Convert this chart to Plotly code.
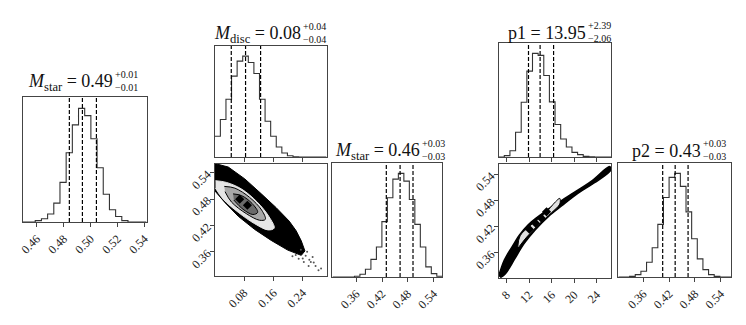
import numpy as np
import plotly.graph_objects as go

# page body keeps its default 8px margin, so the figure is drawn 8px smaller
# and every pixel position below is taken relative to that offset
OFF = 8
W, H = 746 - OFF, 325 - OFF
SERIF = 'Liberation Serif'

# ---- histograms (20 equal bins over each axis range, peak scaled to 1000) ----
mstar1_range = [0.4497, 0.5415]
mstar1_counts = [0, 0, 12, 29, 70, 166, 349, 610, 855, 1000, 936, 733, 477, 244, 108, 49, 12, 0, 0, 0]
mstar1_q = [0.4842, 0.4939, 0.5043]
mstar1_ticks = [0.46, 0.48, 0.50, 0.52, 0.54]

mdisc_range = [0.0, 0.305]
mdisc_counts = [205, 371, 573, 801, 950, 1000, 937, 828, 573, 354, 205, 99, 40, 13, 3, 0, 0, 0, 0, 0]
mdisc_q = [0.045, 0.084, 0.125]
mdisc_ticks = [0.08, 0.16, 0.24]

mstar2_range = [0.305, 0.56]
mstar2_counts = [0, 0, 0, 0, 7, 26, 75, 170, 289, 534, 764, 944, 1000, 925, 748, 508, 289, 98, 33, 7]
mstar2_q = [0.430, 0.462, 0.492]
mstar2_ticks = [0.36, 0.42, 0.48, 0.54]

p1_range = [6.6, 26.6]
p1_counts = [0, 13, 61, 239, 529, 829, 1000, 981, 787, 532, 313, 174, 97, 45, 23, 6, 3, 0, 0, 0]
p1_q = [11.89, 13.95, 16.34]
p1_ticks = [8, 12, 16, 20, 24]

p2_range = [0.302, 0.564]
p2_counts = [0, 0, 6, 23, 55, 142, 282, 508, 767, 961, 1000, 874, 628, 369, 175, 71, 23, 6, 0, 0]
p2_q = [0.405, 0.434, 0.464]
p2_ticks = [0.36, 0.42, 0.48, 0.54]

# ---- 2D panel: M_disc vs M_star (outlines) ----
cloud_a_x = [0.0, 0.001, 0.037, 0.082, 0.127, 0.167, 0.203, 0.222, 0.236, 0.246, 0.236, 0.218, 0.199, 0.154, 0.109, 0.064, 0.028, 0.0]
cloud_a_y = [0.563, 0.561, 0.553, 0.526, 0.492, 0.461, 0.430, 0.408, 0.385, 0.362, 0.352, 0.357, 0.364, 0.386, 0.411, 0.441, 0.472, 0.499]
dots_a_x = [0.235, 0.248, 0.262, 0.275, 0.256, 0.229, 0.267, 0.283, 0.243, 0.221, 0.29, 0.252, 0.258, 0.27, 0.24, 0.212]
dots_a_y = [0.365, 0.351, 0.337, 0.328, 0.328, 0.344, 0.348, 0.318, 0.337, 0.353, 0.322, 0.36, 0.342, 0.336, 0.345, 0.35]
light_a_x = [0.002, 0.032, 0.073, 0.115, 0.148, 0.162, 0.145, 0.109, 0.064, 0.023, 0.002]
light_a_y = [0.522, 0.518, 0.503, 0.474, 0.440, 0.414, 0.410, 0.424, 0.450, 0.480, 0.505]
gray_a_x = [0.026, 0.055, 0.095, 0.128, 0.138, 0.122, 0.086, 0.046, 0.028]
gray_a_y = [0.509, 0.505, 0.484, 0.455, 0.434, 0.432, 0.447, 0.473, 0.497]
dark_a_x = [0.050, 0.073, 0.102, 0.117, 0.104, 0.077, 0.052]
dark_a_y = [0.492, 0.488, 0.470, 0.450, 0.445, 0.457, 0.478]
core_a_x = [0.068, 0.089]
core_a_y = [0.480, 0.466]

# ---- 2D panel: p1 vs p2 ----
band_b_x = [6.6, 7.6, 9.0, 10.3, 11.8, 14.2, 17.1, 20.0, 23.0, 26.3, 26.5, 23.6, 20.7, 17.8, 15.4, 13.1, 11.1, 9.5, 7.8, 6.9]
band_b_y = [0.306, 0.343, 0.374, 0.401, 0.424, 0.449, 0.475, 0.499, 0.524, 0.558, 0.550, 0.521, 0.497, 0.468, 0.443, 0.413, 0.381, 0.347, 0.312, 0.303]
light_b_x = [9.99, 10.41, 12.17, 14.80, 16.67, 17.44, 17.44, 15.97, 13.63, 11.57, 10.23]
light_b_y = [0.374, 0.399, 0.422, 0.450, 0.477, 0.485, 0.472, 0.452, 0.424, 0.396, 0.374]
core_b_x = [12.04, 13.15, 14.21, 15.09]
core_b_y = [0.414, 0.428, 0.439, 0.454]

fig = go.Figure()


def hist(n, rng, counts, q):
    a = '' if n == 1 else str(n)
    edges = np.linspace(rng[0], rng[1], len(counts) + 1)
    fig.add_trace(go.Scatter(x=edges, y=list(counts) + [counts[-1]], mode='lines',
                             line=dict(color='#333', width=1.1, shape='hv'),
                             xaxis='x' + a, yaxis='y' + a, hoverinfo='skip'))
    top = 1.1 * max(counts)
    qx, qy = [], []
    for v in q:
        qx += [v, v, None]
        qy += [0, top, None]
    fig.add_trace(go.Scatter(x=qx, y=qy, mode='lines',
                             line=dict(color='black', width=1.2, dash='4px,2px'),
                             xaxis='x' + a, yaxis='y' + a, hoverinfo='skip'))


def poly(n, xs, ys, fill, line='black', lw=1, shape='spline'):
    a = str(n)
    fig.add_trace(go.Scatter(x=xs, y=ys, mode='lines', fill='toself', fillcolor=fill,
                             line=dict(color=line, width=lw, shape=shape),
                             xaxis='x' + a, yaxis='y' + a, hoverinfo='skip'))


def pts(n, xs, ys, color, size, symbol='circle'):
    a = str(n)
    fig.add_trace(go.Scatter(x=xs, y=ys, mode='markers',
                             marker=dict(color=color, size=size, symbol=symbol),
                             xaxis='x' + a, yaxis='y' + a, hoverinfo='skip'))


hist(1, mstar1_range, mstar1_counts, mstar1_q)
hist(2, mdisc_range, mdisc_counts, mdisc_q)
hist(4, mstar2_range, mstar2_counts, mstar2_q)
hist(5, p1_range, p1_counts, p1_q)
hist(7, p2_range, p2_counts, p2_q)

poly(3, cloud_a_x, cloud_a_y, 'black', 'black', 1, 'linear')
pts(3, dots_a_x, dots_a_y, '#555', 2)
poly(3, light_a_x, light_a_y, '#e6e6e6', '#e6e6e6', 1)
poly(3, gray_a_x, gray_a_y, '#a8a8a8', 'black', 1)
poly(3, dark_a_x, dark_a_y, '#6a6a6a', 'black', 1)
pts(3, core_a_x, core_a_y, 'black', 7, 'diamond')

poly(6, band_b_x, band_b_y, 'black', 'black', 1.5)
poly(6, light_b_x, light_b_y, '#e0e0e0', 'black', 1)
pts(6, core_b_x, core_b_y, 'black', 7, 'diamond')

# panel boxes in window pixels: (left, top, right, bottom)
boxes = {
    1: (19, 97, 144, 222),
    2: (213, 46, 326, 157),
    3: (213, 164, 326, 276),
    4: (332, 163, 443, 277),
    5: (500, 43, 614, 157),
    6: (500, 164, 614, 278),
    7: (621, 163, 735, 277),
}


def px(x):
    return (x - OFF) / W


def py(y):
    return 1 - (y - OFF) / H


tickfont = dict(family=SERIF, size=12, color='#222')
base = dict(showline=True, linecolor='#444', linewidth=1, mirror=True, showgrid=False,
            zeroline=False, ticks='outside', ticklen=4, tickcolor='#444',
            tickangle=-45, tickfont=tickfont)

xinfo = {
    1: (mstar1_range, mstar1_ticks, True),
    2: (mdisc_range, mdisc_ticks, False),
    3: (mdisc_range, mdisc_ticks, True),
    4: (mstar2_range, mstar2_ticks, True),
    5: (p1_range, p1_ticks, False),
    6: (p1_range, p1_ticks, True),
    7: (p2_range, p2_ticks, True),
}
hist_top = {1: mstar1_counts, 2: mdisc_counts, 4: mstar2_counts, 5: p1_counts, 7: p2_counts}

layout = {}
for n, (l, t, r, b) in boxes.items():
    a = '' if n == 1 else str(n)
    rng, tv, lab = xinfo[n]
    layout['xaxis' + a] = dict(base, domain=[px(l), px(r)], range=rng, anchor='y' + a,
                               tickvals=tv, ticktext=['%g' % v if isinstance(v, int) else '%.2f' % v for v in tv],
                               showticklabels=lab)
    if n in hist_top:
        layout['yaxis' + a] = dict(base, domain=[py(b), py(t)], anchor='x' + a,
                                   range=[0, 1.1 * max(hist_top[n])], ticks='',
                                   showticklabels=False)
    else:
        yr = mstar2_range if n == 3 else p2_range
        layout['yaxis' + a] = dict(base, domain=[py(b), py(t)], anchor='x' + a,
                                   range=yr, tickvals=[0.36, 0.42, 0.48, 0.54],
                                   ticktext=['0.36', '0.42', '0.48', '0.54'])


def title(main, up, lo, xr, ym, ys):
    fig.add_annotation(text=main, x=px(xr), y=py(ym), xref='paper', yref='paper',
                       xanchor='right', yanchor='middle', showarrow=False, borderpad=0,
                       font=dict(family=SERIF, size=18, color='#111'))
    fig.add_annotation(text=up + '<br>' + lo, x=px(xr), y=py(ys), xref='paper',
                       yref='paper', xanchor='left', yanchor='middle', showarrow=False,
                       borderpad=0, align='left',
                       font=dict(family=SERIF, size=10, color='#111'))


fig.update_layout(width=W, height=H, margin=dict(l=0, r=0, t=0, b=0),
                  paper_bgcolor='white', plot_bgcolor='white', showlegend=False, **layout)

title('<i>M</i><sub>star</sub> = 0.49', '+0.01', '−0.01', 111, 82, 81)
title('<i>M</i><sub>disc</sub> = 0.08', '+0.04', '−0.04', 301, 34, 33)
title('<i>M</i><sub>star</sub> = 0.46', '+0.03', '−0.03', 421, 151, 150)
title('p1 = 13.95', '+2.39', '−2.06', 589, 33, 32)
title('p2 = 0.43', '+0.03', '−0.03', 706, 151, 150)

fig.write_html("out.html")
